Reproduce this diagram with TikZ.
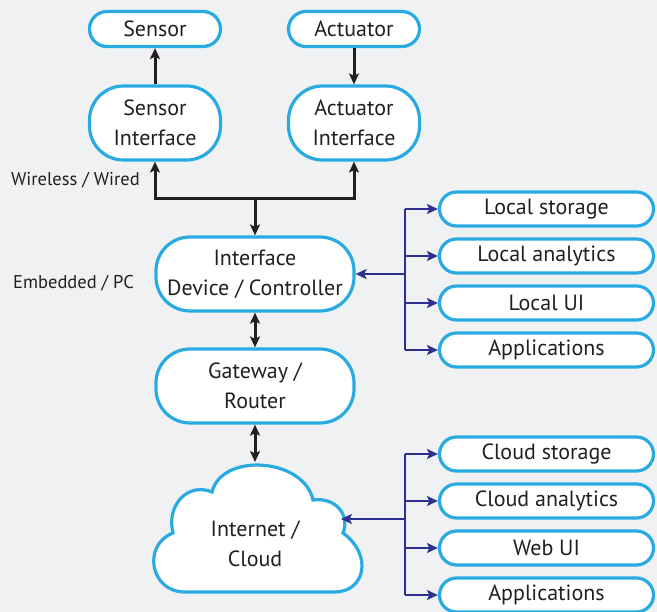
\documentclass[tikz,border=0pt]{standalone}
\usepackage{fontspec}
\setmainfont{PT Sans}
\usetikzlibrary{arrows.meta}
\definecolor{bg}{HTML}{F0F1F3}
\definecolor{bord}{HTML}{29ABE2}
\definecolor{txt}{HTML}{231F20}
\definecolor{blu}{HTML}{2E3192}
\tikzset{
  box/.style={draw=bord, line width=3.2pt, fill=white, text=txt, align=center,
    font=\fontsize{22}{30}\selectfont, inner sep=0pt},
  small/.style={box, minimum width=131pt, minimum height=35pt, rounded corners=17.5pt},
  big/.style={box, minimum height=74pt, rounded corners=34pt},
  side/.style={box, minimum width=214pt, minimum height=34pt, rounded corners=17pt},
  lbl/.style={text=txt, font=\fontsize{18.5}{22}\selectfont, inner sep=0pt},
  tip/.tip={Stealth[length=11pt,width=10pt,inset=2.5pt]},
  blk/.style={draw=txt, line width=3pt, -tip},
  blk2/.style={draw=txt, line width=3pt, tip-tip},
  bl/.style={draw=blu, line width=2.8pt, -tip},
  blline/.style={draw=blu, line width=2.8pt},
}
\begin{document}
\begin{tikzpicture}[x=1pt,y=-1pt]
\useasboundingbox[fill=bg] (0,0) rectangle (657,612);
% top
\node[small] (sensor) at (155,29) {Sensor};
\node[small] (actuator) at (354,29) {Actuator};
\node[big, minimum width=131pt] (sif) at (155,123) {Sensor\\Interface};
\node[big, minimum width=131pt] (aif) at (354,123) {Actuator\\Interface};
\node[big, minimum width=198pt] (dev) at (255,274) {Interface\\Device / Controller};
\node[big, minimum width=198pt] (gw) at (255,386) {Gateway /\\Router};
% cloud
\draw[draw=bord, line width=3.2pt, fill=white]
  (185,592) -- (335,592)
  .. controls (364,592) and (374,556) .. (343,533)
  .. controls (350,515) and (336,497) .. (313,500)
  .. controls (304,458) and (222,452) .. (212,492)
  .. controls (188,482) and (166,505) .. (173,533)
  .. controls (142,545) and (150,592) .. (185,592) -- cycle;
\node[text=txt, align=center, font=\fontsize{22}{30}\selectfont, inner sep=0pt] (cloud) at (255,544) {Internet /\\Cloud};
\coordinate (cloudtop) at (255,462);
\coordinate (cloudright) at (341,519);
% labels
\node[lbl, anchor=east] (ww) at (140,180) {Wireless / Wired};
\node[lbl, anchor=west] (emb) at (13,283) {Embedded / PC};
% black connectors
\draw[blk] (sif.north) -- (sensor.south);
\draw[blk] (actuator.south) -- (aif.north);
\coordinate (bus) at (255,199);
\draw[blk] (bus) -| (sif.south);
\draw[blk] (bus) -| (aif.south);
\draw[blk] (bus) -- (dev.north);
\draw[blk2] (dev.south) -- (gw.north);
\draw[blk2] (gw.south) -- (cloudtop);
% local side boxes
\node[side] (ls) at (546.5,209) {Local storage};
\node[side] (la) at (546.5,256) {Local analytics};
\node[side] (lu) at (546.5,303) {Local UI};
\node[side] (lp) at (546.5,350) {Applications};
\coordinate (lb) at (405,274);
\draw[bl] (lb) -- (dev.east);
\draw[blline] (lb |- ls.west) -- (lb |- lp.west);
\foreach \n in {ls,la,lu,lp} \draw[bl] (lb |- \n.west) -- (\n.west);
% cloud side boxes
\node[side] (cs) at (546.5,454) {Cloud storage};
\node[side] (ca) at (546.5,501) {Cloud analytics};
\node[side] (cw) at (546.5,548) {Web UI};
\node[side] (cp) at (546.5,595) {Applications};
\coordinate (cb) at (405,519);
\draw[bl] (cb) -- (cloudright);
\draw[blline] (cb |- cs.west) -- (cb |- cp.west);
\foreach \n in {cs,ca,cw,cp} \draw[bl] (cb |- \n.west) -- (\n.west);
\end{tikzpicture}
\end{document}
